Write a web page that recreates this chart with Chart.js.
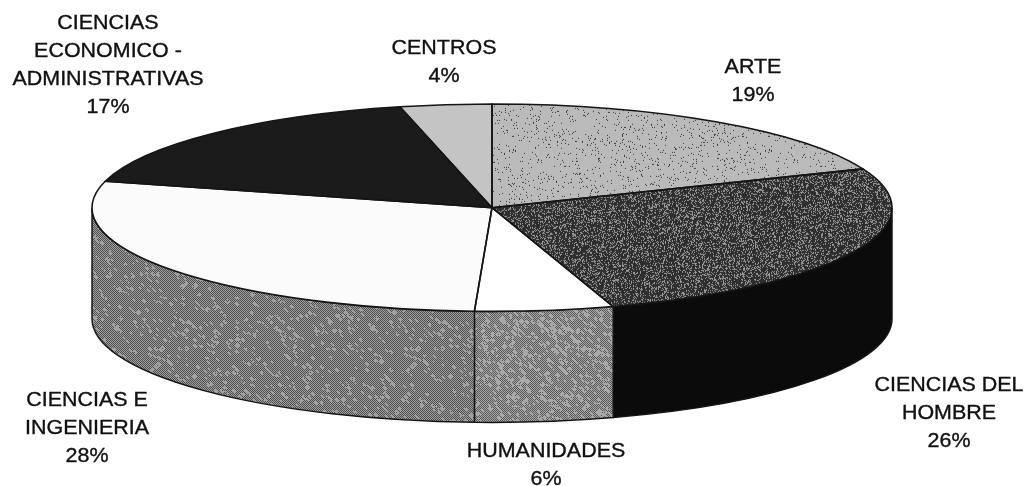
<!DOCTYPE html>
<html lang="es">
<head>
<meta charset="utf-8">
<title>Pie 3D</title>
<script src="https://cdn.jsdelivr.net/npm/chart.js@4"></script>
<style>
  html, body { margin: 0; padding: 0; background: #fff; }
  #pie { display: block; filter: blur(0.6px); }
</style>
</head>
<body>
<canvas id="pie" width="1028" height="486"></canvas>
<script>
/* ── Data ── */
const categories = [
  ['ARTE'],
  ['CIENCIAS DEL', 'HOMBRE'],
  ['HUMANIDADES'],
  ['CIENCIAS E', 'INGENIERIA'],
  ['CIENCIAS', 'ECONOMICO -', 'ADMINISTRATIVAS'],
  ['CENTROS']
];
const shares = [18.9, 26.2, 5.6, 28.4, 17.2, 3.7];

/* ── Look ── */
const RADIUS = 400;
const TILT = 103.7 / 400;
const DEPTH = 111;
const EDGE = '#151515';
const labelSpots = [[753, 67.5], [949, 385.5], [546, 451.5], [87, 400.5], [108, 23.5], [444, 48.5]];
const LINE_H = 28;
const TEXT_WIDEN = 1.1;

// small deterministic generator, only used for the print texture
function noiseGen(seed) {
  let s = seed;
  return () => { s = (s * 1664525 + 1013904223) >>> 0; return s / 4294967296; };
}

function makeTile(paint, size = 256) {
  const c = document.createElement('canvas');
  c.width = c.height = size;
  const g = c.getContext('2d');
  const img = g.createImageData(size, size);
  for (let y = 0; y < size; y++) {
    for (let x = 0; x < size; x++) {
      const v = paint(x, y);
      const i = (y * size + x) * 4;
      img.data[i] = img.data[i + 1] = img.data[i + 2] = v;
      img.data[i + 3] = 255;
    }
  }
  g.putImageData(img, 0, 0);
  return c;
}

function dotted(base, dot, density, seed) {
  const r = noiseGen(seed);
  return () => (r() < density ? dot : base);
}

function dithered(dark, light, patch, seed) {
  const r = noiseGen(seed);
  const blotch = [];
  for (let i = 0; i < 128 * 128; i++) blotch.push(r());
  return (x, y) => {
    // diagonal streaks of lighter print over a fine checker
    const u = Math.floor((x + y) / 6) & 127;
    const v = Math.floor((x - y + 256) / 3) & 127;
    if (blotch[v * 128 + u] < patch && r() < 0.8) return light;
    return (x + y) % 2 === 0 ? dark : light;
  };
}

const patternCtx = document.createElement('canvas').getContext('2d');
function pattern(paint, flat) {
  const p = patternCtx.createPattern(makeTile(paint), 'repeat');
  // top face is drawn squashed, undo that for the texture
  if (flat) p.setTransform(new DOMMatrix().scale(1, 1 / TILT));
  return p;
}

const topColors = [
  pattern(dotted(186, 60, 0.045, 11), true),
  pattern(dotted(46, 150, 0.28, 23), true),
  '#ffffff',
  '#fbfbfb',
  '#1b1b1b',
  '#c4c4c4'
];
const sideColors = [
  '#555555',
  '#0b0b0b',
  pattern(dithered(88, 168, 0.30, 37), false),
  pattern(dithered(78, 160, 0.14, 41), false),
  '#333333',
  '#888888'
];

/* ── 3D plugin: extrude the arcs and squash the top face ── */
function front(arc) {
  const a0 = Math.max(arc.startAngle, 0);
  const a1 = Math.min(arc.endAngle, Math.PI);
  return a0 < a1 ? [a0, a1] : null;
}

function sidePath(ctx, arc, span) {
  const ry = arc.outerRadius * TILT;
  ctx.beginPath();
  ctx.ellipse(arc.x, arc.y, arc.outerRadius, ry, 0, span[0], span[1]);
  ctx.ellipse(arc.x, arc.y + DEPTH, arc.outerRadius, ry, 0, span[1], span[0], true);
  ctx.closePath();
}

const tiltPlugin = {
  id: 'tilt',
  beforeDatasetDraw(chart) {
    const ctx = chart.ctx;
    const arcs = chart.getDatasetMeta(0).data;
    ctx.save();
    ctx.lineWidth = 1.5;
    ctx.strokeStyle = EDGE;
    arcs.forEach((arc, i) => {
      const span = front(arc);
      if (!span) return;
      sidePath(ctx, arc, span);
      ctx.fillStyle = sideColors[i];
      ctx.fill();
      ctx.stroke();
    });
    ctx.restore();
    const c = arcs[0];
    ctx.save();
    ctx.translate(c.x, c.y);
    ctx.scale(1, TILT);
    ctx.translate(-c.x, -c.y);
  },
  afterDatasetDraw(chart) {
    const ctx = chart.ctx;
    ctx.restore();
    ctx.save();
    ctx.lineWidth = 1.6;
    ctx.lineJoin = 'round';
    ctx.strokeStyle = EDGE;
    chart.getDatasetMeta(0).data.forEach(arc => {
      ctx.beginPath();
      ctx.moveTo(arc.x, arc.y);
      ctx.ellipse(arc.x, arc.y, arc.outerRadius, arc.outerRadius * TILT, 0, arc.startAngle, arc.endAngle);
      ctx.closePath();
      ctx.stroke();
    });
    ctx.restore();
  }
};

/* ── Labels ── */
const labelPlugin = {
  id: 'sliceLabels',
  afterDraw(chart) {
    const ctx = chart.ctx;
    ctx.save();
    ctx.font = '19.5px "Liberation Sans", Arial, sans-serif';
    ctx.fillStyle = '#111';
    ctx.strokeStyle = '#111';
    ctx.lineWidth = 0.35;
    ctx.textAlign = 'center';
    ctx.textBaseline = 'middle';
    chart.data.labels.forEach((lines, i) => {
      const [x, y] = labelSpots[i];
      const all = lines.concat(Math.round(shares[i]) + '%');
      all.forEach((t, n) => {
        ctx.save();
        ctx.translate(x, y + n * LINE_H);
        ctx.scale(TEXT_WIDEN, 1);
        ctx.fillText(t, 0, 0);
        ctx.strokeText(t, 0, 0);
        ctx.restore();
      });
    });
    ctx.restore();
  }
};

new Chart(document.getElementById('pie'), {
  type: 'pie',
  data: {
    labels: categories,
    datasets: [{
      data: shares,
      backgroundColor: topColors,
      borderWidth: 0,
      clip: false
    }]
  },
  options: {
    responsive: false,
    animation: false,
    radius: RADIUS,
    rotation: 0,
    layout: { padding: { left: 0, right: 44, top: 0, bottom: 70.6 } },
    plugins: { legend: { display: false }, tooltip: { enabled: false } }
  },
  plugins: [tiltPlugin, labelPlugin]
});
</script>
</body>
</html>
